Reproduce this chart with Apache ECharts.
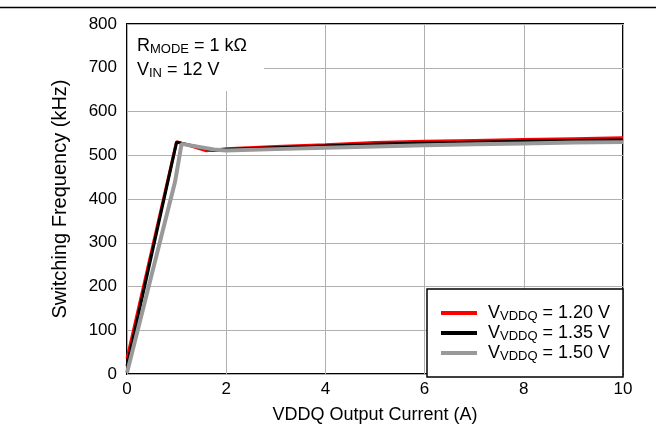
<!DOCTYPE html>
<html>
<head>
<meta charset="utf-8">
<script src="https://cdn.jsdelivr.net/npm/echarts@6/dist/echarts.min.js"></script>
<style>html,body{margin:0;padding:0;background:#fff;}#c{width:656px;height:429px;}</style>
</head>
<body>
<div id="c"></div>
<script>
// Data
const currentRed   = [0, 1.0, 1.6, 2, 3, 4, 5, 6, 7, 8, 9, 10];
const freqRed      = [35, 531, 510, 515, 520, 524, 529, 532, 534, 536, 538, 540];
const currentBlack = [0, 1.0, 1.75, 2, 3, 4, 5, 6, 7, 8, 9, 10];
const freqBlack    = [18, 530, 511, 513, 517, 521, 525, 528, 530, 532, 534, 535];
const currentGray  = [0, 0.97, 1.1, 1.75, 2, 3, 4, 5, 6, 7, 8, 9, 10];
const freqGray     = [3, 440, 526, 513, 511, 514, 517, 520, 523, 525, 527, 529, 530];
const seriesNames  = ['1.20', '1.35', '1.50'];
const xTicks = [0, 2, 4, 6, 8, 10];
const yTicks = [0, 100, 200, 300, 400, 500, 600, 700, 800];

const zip = (xs, ys) => xs.map((x, i) => [x, ys[i]]);
const FONT = 'Liberation Sans, Arial, sans-serif';

const chart = echarts.init(document.getElementById('c'), null, {renderer: 'canvas'});
const rich = {
  a: {fontFamily: FONT, fontSize: 18, color: '#000'},
  s: {fontFamily: FONT, fontSize: 13, color: '#000', verticalAlign: 'bottom', padding: [7, 0, 0, 0]}
};
chart.setOption({
  animation: false,
  backgroundColor: '#fff',
  grid: {left: 127, right: 33, top: 24, bottom: 52, show: true, borderColor: '#000', borderWidth: 2, backgroundColor: 'transparent'},
  xAxis: {
    type: 'value', min: xTicks[0], max: xTicks[xTicks.length - 1], interval: 2,
    name: 'VDDQ Output Current (A)', nameLocation: 'middle', nameGap: 32,
    nameTextStyle: {fontFamily: FONT, fontSize: 18, color: '#000'},
    axisLine: {show: false}, axisTick: {show: false},
    axisLabel: {fontFamily: FONT, fontSize: 17, color: '#000', margin: 7},
    splitLine: {show: true, lineStyle: {color: '#b0b0b0', width: 1}}
  },
  yAxis: {
    type: 'value', min: yTicks[0], max: yTicks[yTicks.length - 1], interval: 100,
    name: 'Switching Frequency (kHz)', nameLocation: 'middle', nameGap: 57,
    nameTextStyle: {fontFamily: FONT, fontSize: 20, color: '#000'},
    axisLine: {show: false}, axisTick: {show: false},
    axisLabel: {fontFamily: FONT, fontSize: 17, color: '#000', margin: 10},
    splitLine: {show: true, lineStyle: {color: '#b0b0b0', width: 1}}
  },
  legend: {
    orient: 'vertical', left: 441, top: 304, itemGap: 1, itemWidth: 36, itemHeight: 4,
    icon: 'rect', z: 10, padding: 0,
    data: seriesNames.map(n => ({name: n})),
    formatter: n => '{a|V}{s|VDDQ}{a| = ' + n + ' V}',
    textStyle: {rich: rich, padding: [0, 0, 0, 6]}
  },
  graphic: [
    {type: 'rect', z: 5, shape: {x: 427, y: 289, width: 196, height: 88},
     style: {fill: '#fff', stroke: '#000', lineWidth: 1.5}},
    {type: 'rect', z: 5, shape: {x: 128, y: 25, width: 136, height: 66},
     style: {fill: '#fff', stroke: null}},
    {type: 'text', z: 6, left: 137, top: 37,
     style: {text: '{a|R}{s|MODE}{a| = 1 kΩ}', rich: rich}},
    {type: 'text', z: 6, left: 137, top: 61,
     style: {text: '{a|V}{s|IN}{a| = 12 V}', rich: rich}},
    {type: 'line', z: 6, shape: {x1: 0, y1: 7.5, x2: 656, y2: 7.5},
     style: {stroke: '#000', lineWidth: 1.5}}
  ],
  series: [
    {name: seriesNames[0], type: 'line', data: zip(currentRed, freqRed), showSymbol: false, symbol: 'none',
     lineStyle: {color: '#ff0000', width: 3}, itemStyle: {color: '#ff0000'}, z: 2},
    {name: seriesNames[1], type: 'line', data: zip(currentBlack, freqBlack), showSymbol: false, symbol: 'none',
     lineStyle: {color: '#000000', width: 3}, itemStyle: {color: '#000000'}, z: 2},
    {name: seriesNames[2], type: 'line', data: zip(currentGray, freqGray), showSymbol: false, symbol: 'none',
     lineStyle: {color: '#999999', width: 4}, itemStyle: {color: '#999999'}, z: 2}
  ]
});
</script>
</body>
</html>
